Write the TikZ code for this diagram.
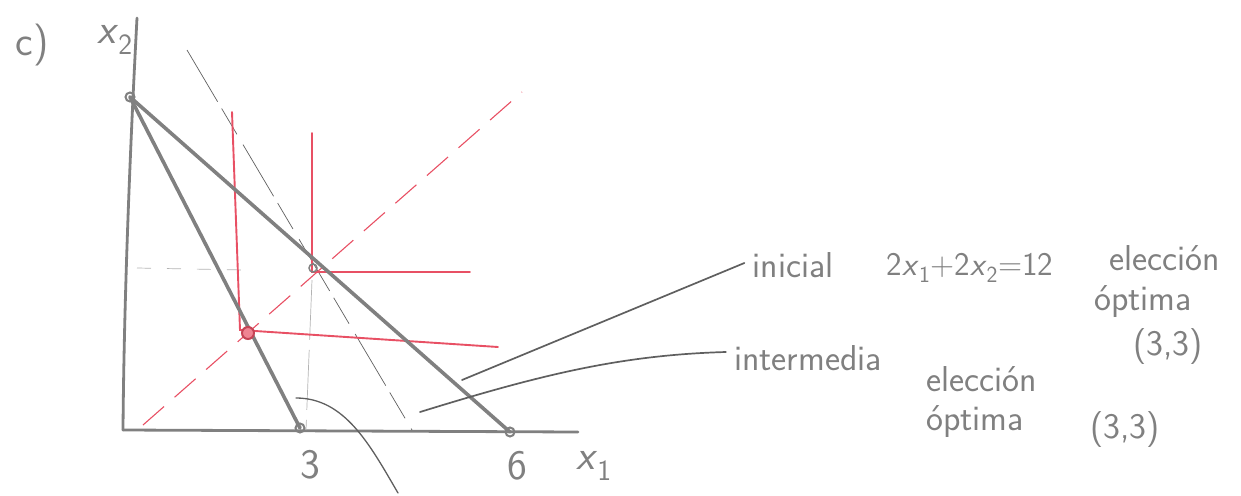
\documentclass[tikz,border=0pt]{standalone}
\usetikzlibrary{calc}
\definecolor{pencil}{RGB}{128,128,128}
\definecolor{pencildark}{RGB}{95,95,95}
\definecolor{redpen}{RGB}{232,80,100}
\begin{document}
\begin{tikzpicture}[x=1pt,y=-1pt,
  axis/.style={draw=pencil,line width=2.8pt,line cap=round},
  budget/.style={draw=pencil,line width=3.6pt,line cap=round},
  redline/.style={draw=redpen,line width=1.9pt,line cap=round},
  reddash/.style={draw=redpen,line width=1.1pt,dash pattern=on 28pt off 14pt},
  thindash/.style={draw=pencildark,line width=0.7pt,dash pattern=on 60pt off 8pt on 30pt off 12pt},
  faint/.style={draw=pencil!60,line width=0.7pt},
  leader/.style={draw=pencildark,line width=1.7pt,line cap=round},
  dot/.style={circle,draw=pencil,line width=2pt,inner sep=0pt,minimum size=9pt},
  reddot/.style={circle,draw=redpen!85!black,fill=redpen!70,line width=2pt,inner sep=0pt,minimum size=12pt},
  lbl/.style={text=pencil,font=\sffamily\fontsize{36}{40}\selectfont,inner sep=0pt},
  num/.style={text=pencil,font=\sffamily\fontsize{42}{46}\selectfont,inner sep=0pt}]
\useasboundingbox (0,0) rectangle (1241,495);
% axes
\coordinate (O) at (123,430);
\coordinate (ytop) at (137,18);
\coordinate (xend) at (578,432);
\draw[axis] (O) .. controls (124,300) and (130,150) .. (ytop);
\draw[axis] (O) -- (xend);
% dashed guide lines
\coordinate (dA) at (187,50);
\coordinate (dB) at (412,430);
\draw[thindash] (dA) -- (dB);
\coordinate (vA) at (312,280);
\coordinate (vB) at (306,430);
\draw[faint,dash pattern=on 60pt off 10pt] (vA) -- (vB);
\coordinate (hA) at (137,268);
\coordinate (hB) at (245,270);
\draw[faint,dash pattern=on 14pt off 16pt] (hA) -- (hB);
% red diagonal
\coordinate (rA) at (143,425);
\coordinate (rB) at (522,92);
\draw[reddash] (rA) -- (rB);
% red L-shaped indifference curves
\coordinate (L1top) at (232,112);
\coordinate (L1c) at (240,330);
\coordinate (L1end) at (498,347);
\draw[redline] (L1top) -- (L1c) -- (L1end);
\coordinate (L2top) at (312,133);
\coordinate (L2c) at (312,272);
\coordinate (L2end) at (470,272);
\draw[redline] (L2top) -- (L2c) -- (L2end);
% budget lines
\node[dot] (Y) at (130,97) {};
\node[dot] (X3) at (300,428) {};
\node[dot] (X6) at (510,432) {};
\draw[budget] (Y.center) -- (X3.center);
\draw[budget] (Y.center) -- (X6.center);
\node[reddot] (E) at (248,333) {};
\node[circle,draw=pencil,line width=1.5pt,inner sep=0pt,minimum size=8pt] (E2) at (313,268) {};
% leaders
\coordinate (la) at (462,380);
\coordinate (lb) at (420,412);
\coordinate (lc) at (296,398);
\coordinate (lcend) at (398,493);
% labels
\node[num] (c) at (32,45) {c)};
\node[num] (x2) at (115,40) {\textit{x}\textsubscript{2}};
\node[num] (n3) at (310,465) {3};
\node[num] (n6) at (517,466) {6};
\node[num] (x1) at (594,466) {\textit{x}\textsubscript{1}};
\node[lbl] (ini) at (793,265) {inicial};
\node[lbl,font=\sffamily\fontsize{33}{36}\selectfont] (eq) at (970,268) {2\textit{x}\textsubscript{1}+2\textit{x}\textsubscript{2}=12};
\node[lbl] (el1) at (1165,258) {elección};
\node[lbl] (op1) at (1143,302) {óptima};
\node[lbl] (p1) at (1168,347) {(3,3)};
\node[lbl] (int) at (808,358) {intermedia};
\node[lbl] (el2) at (982,379) {elección};
\node[lbl] (op2) at (975,422) {óptima};
\node[lbl] (p2) at (1125,430) {(3,3)};
\coordinate (iniend) at ($(ini.west)+(-8,-2)$);
\coordinate (intend) at ($(int.west)+(-8,-6)$);
\draw[leader] (la) -- (iniend);
\draw[leader] (lb) .. controls (540,375) and (620,355) .. (intend);
\draw[leader,line width=1.3pt] (lc) .. controls (345,398) and (370,445) .. (lcend);
\end{tikzpicture}
\end{document}
